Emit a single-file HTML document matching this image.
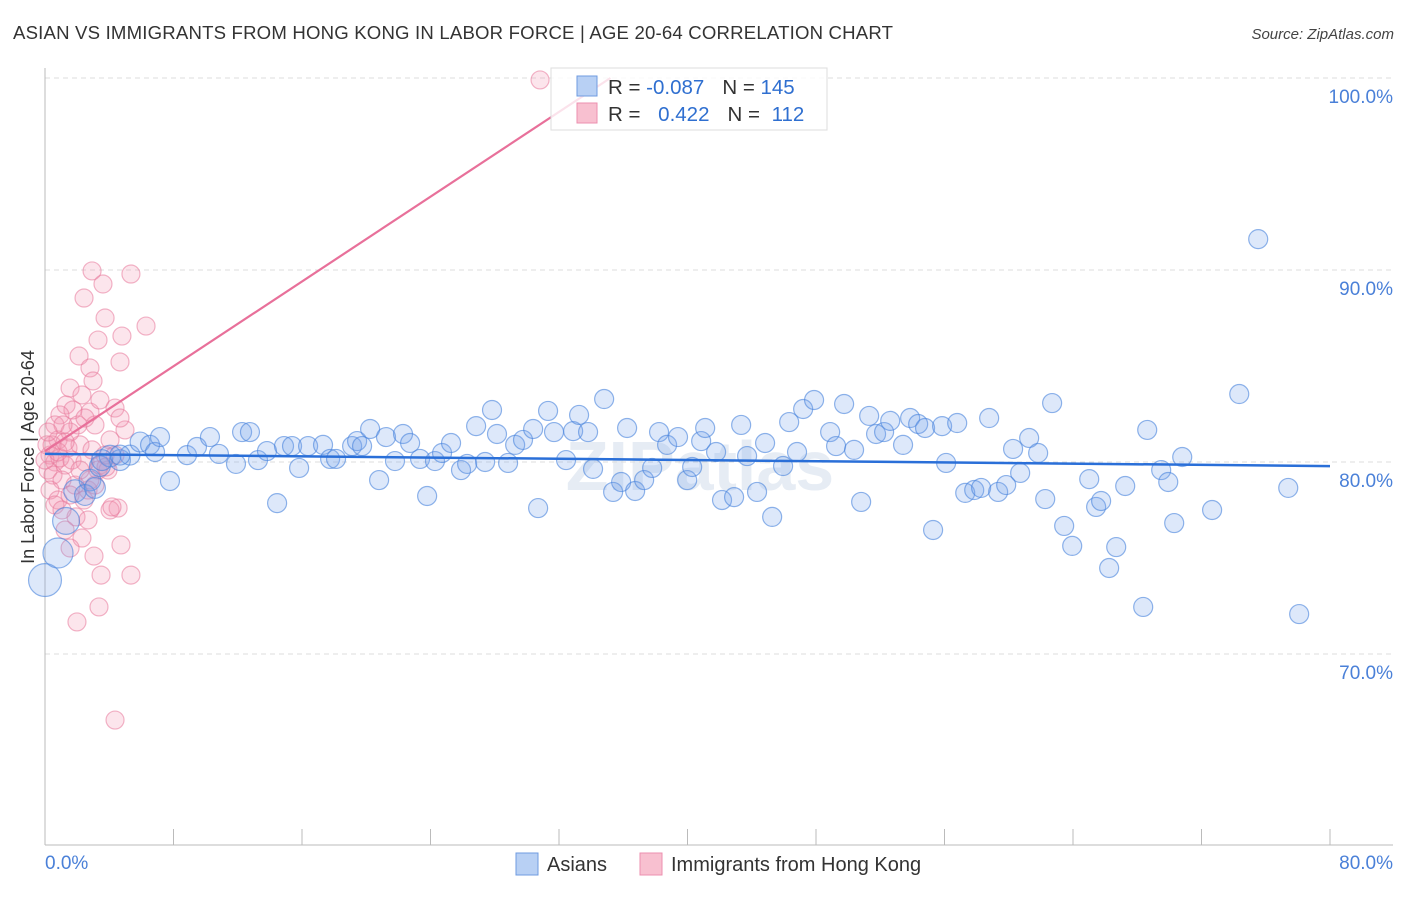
<!DOCTYPE html>
<html><head><meta charset="utf-8"><style>
body{margin:0;background:#fff;font-family:"Liberation Sans",sans-serif;}
svg text{font-family:"Liberation Sans",sans-serif;}
</style></head><body>
<svg id="chart" width="1406" height="892" xmlns="http://www.w3.org/2000/svg">
<text x="13" y="39" font-size="18.6" fill="#333" textLength="880">ASIAN VS IMMIGRANTS FROM HONG KONG IN LABOR FORCE | AGE 20-64 CORRELATION CHART</text>
<text x="1394" y="39" font-size="15" fill="#444" text-anchor="end" font-style="italic">Source: ZipAtlas.com</text>
<text transform="translate(34,457) rotate(-90)" font-size="18" fill="#333" text-anchor="middle">In Labor Force | Age 20-64</text>
<text x="700" y="490" font-size="70" fill="#e6ecf4" text-anchor="middle" font-weight="bold">ZIPatlas</text>
<g id="grid"></g><g id="axes"></g><g id="pts"></g><g id="lines"></g>
<g>
<rect x="551" y="68" width="276" height="62" fill="rgba(255,255,255,0.8)" stroke="#ddd"/>
<rect x="577" y="76" width="20" height="20" fill="#b8d0f4" stroke="#6f9be0"/>
<rect x="577" y="103" width="20" height="20" fill="#f8c0d0" stroke="#ec8faf"/>
<text x="608" y="94" font-size="20.5" fill="#333">R = <tspan fill="#2f6fd0">-0.087</tspan><tspan dx="18">N = </tspan><tspan fill="#2f6fd0">145</tspan></text>
<text x="608" y="121" font-size="20.5" fill="#333">R = <tspan dx="12" fill="#2f6fd0">0.422</tspan><tspan dx="18">N = </tspan><tspan dx="6" fill="#2f6fd0">112</tspan></text>
</g>
<g>
<rect x="516" y="853" width="22" height="22" fill="#b8d0f4" stroke="#6f9be0"/>
<text x="547" y="871" font-size="20" fill="#333">Asians</text>
<rect x="640" y="853" width="22" height="22" fill="#f8c0d0" stroke="#ec8faf"/>
<text x="671" y="871" font-size="20" fill="#333">Immigrants from Hong Kong</text>
</g>
</svg>
<script>
const yTicks=[100,90,80,70];
const yTickLabels=["100.0%","90.0%","80.0%","70.0%"];
const xTicks=[0,8,16,24,32,40,48,56,64,72,80];
const xTickLabels=["0.0%","80.0%"];
const blueX=[0,0.81,1.31,1.87,2.80,3.42,4.05,4.67,5.29,5.92,6.54,6.85,7.78,2.49,3.11,3.55,4.67,
7.16,8.84,9.46,10.27,10.83,11.89,12.27,12.76,13.26,13.82,14.45,14.88,15.38,15.82,16.38,17.31,17.75,18.12,19.12,19.43,19.74,20.24,20.80,21.23,21.79,22.29,22.73,23.35,23.79,24.28,24.72,25.28,25.90,26.28,26.84,27.40,27.83,28.14,28.83,29.27,29.76,30.39,30.70,31.32,31.69,32.44,32.88,33.25,33.81,34.12,34.81,35.37,35.87,36.24,36.74,37.30,37.80,38.23,38.73,39.41,39.98,40.29,40.85,41.10,41.78,42.15,42.90,43.34,43.71,44.33,44.83,45.27,45.95,46.33,46.82,47.20,47.88,48.88,49.25,49.75,50.37,50.81,51.31,51.74,52.24,52.62,53.42,53.86,54.36,54.79,55.29,55.85,56.10,56.79,57.29,57.85,58.28,58.78,59.34,59.84,60.27,60.71,61.27,61.83,62.27,62.70,63.45,63.95,65.01,65.44,65.75,66.25,66.69,67.25,68.37,68.62,69.49,69.93,70.30,70.80,72.66,74.35,75.53,77.40,78.08];
const blueY=[73.85,75.26,76.93,78.49,79.06,79.79,80.31,80.10,80.36,81.04,80.89,80.52,79.01,78.28,78.65,80.10,80.36,
81.30,80.36,80.78,81.30,80.42,79.90,81.56,81.56,80.10,80.57,77.86,80.83,80.83,79.69,80.83,80.89,80.16,80.16,80.83,81.09,80.83,81.72,79.06,81.30,80.05,81.46,80.99,80.16,78.23,80.05,80.47,80.99,79.58,79.90,81.87,80.00,82.71,81.46,79.95,80.89,81.15,81.72,77.60,82.66,81.56,80.10,81.61,82.45,81.56,79.64,83.28,78.44,78.96,81.77,78.49,79.06,79.69,81.56,80.89,81.30,79.06,79.74,81.09,81.77,80.52,78.02,78.17,81.93,80.31,78.44,80.99,77.14,79.79,82.08,80.52,82.76,83.23,81.56,80.83,83.02,80.63,77.92,82.40,81.46,81.56,82.14,80.89,82.29,81.98,81.77,76.46,81.87,79.95,82.03,78.39,78.54,78.65,82.29,78.44,78.80,80.68,79.43,81.25,80.47,78.07,83.07,76.67,75.63,79.11,77.66,77.97,74.48,75.57,78.75,72.45,81.67,79.58,78.96,76.82,80.26,77.50,83.54,91.61,78.65,72.08];
const blueWeight=[3,2.5,2,1.4,1.3,1.2,1.3,1.2,1.1,1.1,1,1,1,1.2,1.2,1.2,1.1];
const pinkX=[2.93,5.35,3.61,2.43,3.74,6.29,3.30,4.79,2.12,2.80,2.99,4.67,1.56,2.30,1.31,1.74,2.80,3.42,4.36,0.93,0.62,2.05,3.11,4.05,4.98,0.81,1.43,2.18,2.93,0.31,0.62,1.25,0.19,0.93,1.68,2.49,3.42,0.50,1.06,1.87,2.68,3.30,0.31,0.81,1.56,2.43,3.11,3.92,4.55,4.05,1.93,2.68,1.25,2.30,1.56,3.05,3.49,4.73,5.35,3.36,1.99,4.36,4.67,0.12,0.44,0,0.81,1.56,2.49,2.80,3.74,4.36,30.82,1.12,0.19,1.25,2.18,0.62,1.06,3.80,4.17];
const pinkY=[89.95,89.79,89.27,88.54,87.50,87.08,86.35,86.56,85.52,84.90,84.22,85.21,83.85,83.49,82.97,82.71,82.60,83.23,82.81,82.45,81.93,81.93,81.93,81.15,81.67,81.15,80.73,80.89,80.63,80.36,80.00,79.84,79.58,80.21,80.10,80.00,79.84,79.32,79.06,78.80,78.54,79.58,78.54,78.02,78.28,78.02,78.80,79.58,77.60,77.50,77.14,76.98,76.46,76.04,75.52,75.10,74.11,75.68,74.11,72.45,71.67,66.56,82.29,80.89,80.89,80.10,80.52,81.56,82.29,79.06,80.36,80.36,99.90,81.93,81.56,81.04,79.58,77.76,77.50,79.74,77.66];
const blueTrend=[80.42,-0.0079];
const pinkTrend=[80.57,0.552];

const NS="http://www.w3.org/2000/svg";
const x0=45,x1=1330,yTop=78,yBot=654;
const xs=v=>x0+(v/80)*(x1-x0);
const ys=v=>yTop+(100-v)/30*(yBot-yTop);
function mk(tag,attrs,parent){const e=document.createElementNS(NS,tag);for(const k in attrs)e.setAttribute(k,attrs[k]);document.getElementById(parent).appendChild(e);return e;}
yTicks.forEach((t,i)=>{
 const g=mk('line',{x1:45,x2:1393,y1:ys(t),y2:ys(t),stroke:'#dcdcdc','stroke-dasharray':'5,4'},'grid');
 
 
 const l=mk('text',{x:1393,y:ys(t)+25,'font-size':19,fill:'#4a80d8','text-anchor':'end'},'grid');
 l.textContent=yTickLabels[i];
 
 
});
let a=mk('line',{x1:45,x2:45,y1:68,y2:845,stroke:'#bbb'},'axes');


a=mk('line',{x1:45,x2:1393,y1:845,y2:845,stroke:'#bbb'},'axes');


xTicks.forEach(t=>{const tk=mk('line',{x1:xs(t),x2:xs(t),y1:829,y2:845,stroke:'#bbb'},'axes');
 
 });
let xl=mk('text',{x:45,y:869,'font-size':19,fill:'#4a80d8'},'axes');xl.textContent=xTickLabels[0];


xl=mk('text',{x:1393,y:869,'font-size':19,fill:'#4a80d8','text-anchor':'end'},'axes');xl.textContent=xTickLabels[1];


pinkX.forEach((v,i)=>{const c=mk('circle',{cx:xs(v),cy:ys(pinkY[i]),r:9,fill:'rgba(244,150,178,0.25)',stroke:'rgba(232,120,155,0.55)','stroke-width':1.2},'pts');
 
 });
blueX.forEach((v,i)=>{const w=blueWeight[i]||1;const c=mk('circle',{cx:xs(v),cy:ys(blueY[i]),r:9.5*Math.sqrt(w),fill:'rgba(120,165,235,0.25)',stroke:'rgba(70,130,220,0.6)','stroke-width':1.2},'pts');
 
 });
let bl=mk('line',{x1:xs(0),y1:ys(blueTrend[0]),x2:xs(80),y2:ys(blueTrend[0]+blueTrend[1]*80),stroke:'#2a6fd8','stroke-width':2.5},'lines');


const pEnd=(100-pinkTrend[0])/pinkTrend[1];
let pl=mk('line',{x1:xs(0),y1:ys(pinkTrend[0]),x2:xs(pEnd),y2:ys(100),stroke:'#e8709a','stroke-width':2.2},'lines');


</script>
</body></html>
